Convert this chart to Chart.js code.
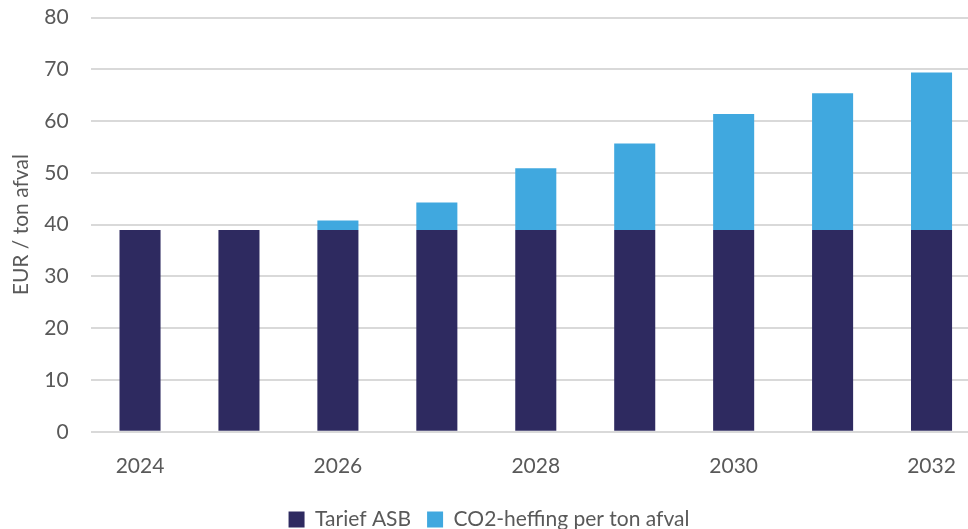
<!DOCTYPE html>
<html>
<head>
<meta charset="utf-8">
<script src="https://cdn.jsdelivr.net/npm/chart.js@4"></script>
<style>
  html, body { margin: 0; padding: 0; background: #fff; overflow: hidden; }
  #wrap { width: 981px; height: 559px; margin-top: -17px; }
</style>
</head>
<body>
<div id="wrap"><canvas id="myChart"></canvas></div>
<script>
const years = ['2024', '2025', '2026', '2027', '2028', '2029', '2030', '2031', '2032'];
const tariefASB = [39, 39, 39, 39, 39, 39, 39, 39, 39];
const co2Heffing = [0, 0, 1.8, 5.3, 11.9, 16.7, 22.4, 26.4, 30.4];

const fontFamily = 'Lato, "Open Sans", sans-serif';
const grey = '#595959';

const ctx = document.getElementById('myChart');
new Chart(ctx, {
  type: 'bar',
  data: {
    labels: years,
    datasets: [{
      label: 'Tarief ASB',
      data: tariefASB,
      backgroundColor: '#2e2a60',
      barPercentage: 0.415,
      categoryPercentage: 1
    }, {
      label: 'CO2-heffing per ton afval',
      data: co2Heffing,
      backgroundColor: '#40a8df',
      barPercentage: 0.415,
      categoryPercentage: 1
    }]
  },
  options: {
    responsive: true,
    maintainAspectRatio: false,
    animation: false,
    layout: { padding: { top: -5, left: -3, right: 0, bottom: 2 } },
    plugins: {
      legend: {
        position: 'bottom',
        labels: {
          color: grey,
          font: { family: fontFamily, size: 21 },
          boxWidth: 16,
          boxHeight: 16,
          padding: 16
        }
      },
      tooltip: { enabled: false }
    },
    scales: {
      x: {
        stacked: true,
        grid: { display: false },
        border: { display: false },
        ticks: {
          color: grey,
          font: { family: fontFamily, size: 21 },
          autoSkip: false,
          maxRotation: 0,
          padding: 14,
          callback: function (val, i) { return i % 2 === 0 ? this.getLabelForValue(val) : ''; }
        }
      },
      y: {
        stacked: true,
        min: 0,
        max: 80,
        grid: { color: '#d9d9d9', lineWidth: 2, drawTicks: false },
        border: { display: false },
        title: {
          display: true,
          text: 'EUR / ton afval',
          color: grey,
          font: { family: fontFamily, size: 21 },
          padding: { top: 12, bottom: -12 }
        },
        ticks: {
          stepSize: 10,
          color: grey,
          font: { family: fontFamily, size: 21 },
          padding: 22
        }
      }
    }
  }
});
</script>
</body>
</html>
